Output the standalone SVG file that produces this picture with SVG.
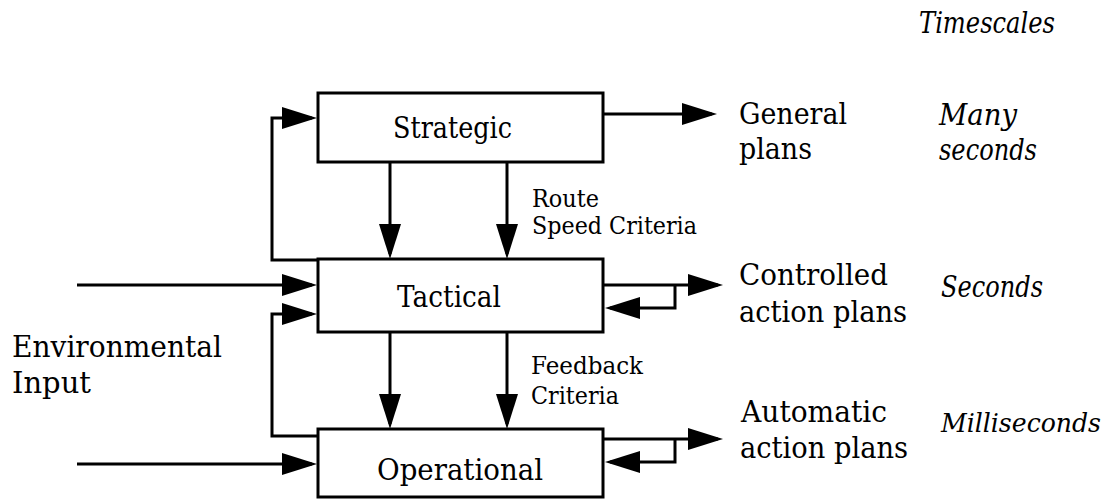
<svg xmlns="http://www.w3.org/2000/svg" width="1109" height="499" viewBox="0 0 1109 499">
  <style>
    .box { fill: #ffffff; stroke: #000000; stroke-width: 3; }
    .wire { fill: none; stroke: #000000; stroke-width: 3; stroke-linejoin: miter; marker-end: url(#ah); }
    text { font-family: 'DejaVu Serif', serif; fill: #000000; }
    .main { font-size: 30px; }
    .small { font-size: 24px; }
    .time { font-size: 30px; font-style: italic; }
  </style>
  <defs>
    <!-- solid triangular arrowhead; tip sits 5px past the path end -->
    <marker id="ah" markerUnits="userSpaceOnUse" markerWidth="36" markerHeight="24" refX="30" refY="11" orient="auto" overflow="visible">
      <path d="M0,0 L35,11 L0,22 z" fill="#000000"/>
    </marker>
  </defs>
  <rect width="1109" height="499" fill="#ffffff"/>

  <!-- connectors -->
  <g id="connectors">
    <!-- feedback loops on the left -->
    <path class="wire" d="M318,260 H272 V118 H312"/>
    <path class="wire" d="M318,436 H272 V314 H312"/>
    <!-- environmental inputs -->
    <path class="wire" d="M77,285 H312"/>
    <path class="wire" d="M77,464 H312"/>
    <!-- downward control flow -->
    <path class="wire" d="M390,162 V254"/>
    <path class="wire" d="M507,162 V254"/>
    <path class="wire" d="M390,332 V424"/>
    <path class="wire" d="M507,332 V424"/>
    <!-- outputs -->
    <path class="wire" d="M603,114 H712"/>
    <path class="wire" d="M603,285 H718"/>
    <path class="wire" d="M675,285 V308 H610"/>
    <path class="wire" d="M603,439 H718"/>
    <path class="wire" d="M675,439 V462 H610"/>
  </g>

  <!-- levels -->
  <g id="strategic">
    <rect class="box" x="318" y="93" width="285" height="69"/>
    <text class="main" x="393" y="138" textLength="119" lengthAdjust="spacingAndGlyphs">Strategic</text>
  </g>
  <g id="tactical">
    <rect class="box" x="318" y="259" width="285" height="73"/>
    <text class="main" x="397" y="307" textLength="104" lengthAdjust="spacingAndGlyphs">Tactical</text>
  </g>
  <g id="operational">
    <rect class="box" x="318" y="429" width="285" height="68"/>
    <text class="main" x="377" y="480" textLength="166" lengthAdjust="spacingAndGlyphs">Operational</text>
  </g>

  <!-- connector labels -->
  <g id="criteria-labels">
    <text class="small" x="532" y="207" textLength="67" lengthAdjust="spacingAndGlyphs">Route</text>
    <text class="small" x="532" y="234" textLength="165" lengthAdjust="spacingAndGlyphs">Speed Criteria</text>
    <text class="small" x="531" y="374" textLength="112" lengthAdjust="spacingAndGlyphs">Feedback</text>
    <text class="small" x="531" y="404" textLength="88" lengthAdjust="spacingAndGlyphs">Criteria</text>
  </g>

  <g id="environmental-input">
    <text class="main" x="12" y="357" textLength="210" lengthAdjust="spacingAndGlyphs">Environmental</text>
    <text class="main" x="12" y="393" textLength="79" lengthAdjust="spacingAndGlyphs">Input</text>
  </g>

  <!-- outputs -->
  <g id="outputs">
    <text class="main" x="739" y="124" textLength="108" lengthAdjust="spacingAndGlyphs">General</text>
    <text class="main" x="739" y="159" textLength="73" lengthAdjust="spacingAndGlyphs">plans</text>
    <text class="main" x="739" y="285" textLength="149" lengthAdjust="spacingAndGlyphs">Controlled</text>
    <text class="main" x="739" y="322" textLength="168" lengthAdjust="spacingAndGlyphs">action plans</text>
    <text class="main" x="741" y="422" textLength="146" lengthAdjust="spacingAndGlyphs">Automatic</text>
    <text class="main" x="740" y="458" textLength="168" lengthAdjust="spacingAndGlyphs">action plans</text>
  </g>

  <!-- timescales column -->
  <g id="timescales">
    <text class="time" x="919" y="33" textLength="136" lengthAdjust="spacingAndGlyphs">Timescales</text>
    <text class="time" x="939" y="125" textLength="78" lengthAdjust="spacingAndGlyphs">Many</text>
    <text class="time" x="939" y="160" textLength="98" lengthAdjust="spacingAndGlyphs">seconds</text>
    <text class="time" x="941" y="297" textLength="102" lengthAdjust="spacingAndGlyphs">Seconds</text>
    <text class="time" x="941" y="432" textLength="160" lengthAdjust="spacingAndGlyphs" style="font-size:26px">Milliseconds</text>
  </g>
</svg>
